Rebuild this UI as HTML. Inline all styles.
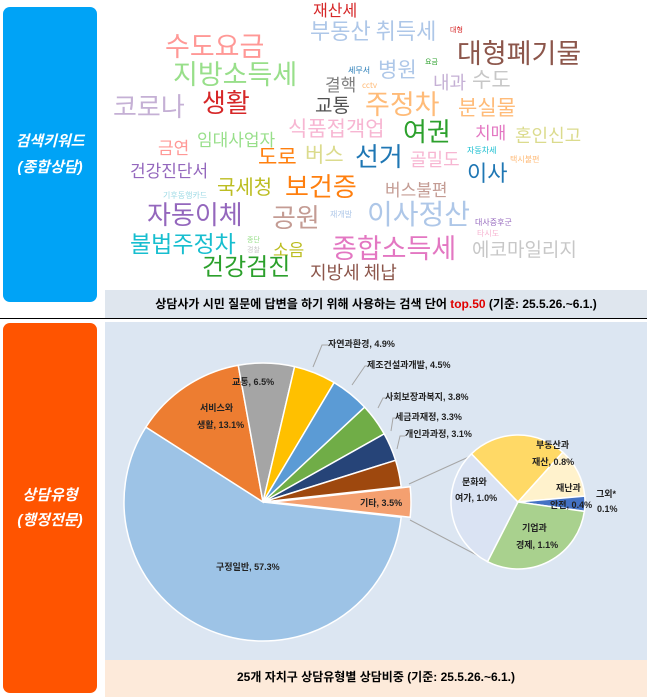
<!DOCTYPE html>
<html><head><meta charset="utf-8"><style>
body{margin:0;width:647px;height:697px;background:#fff;position:relative;overflow:hidden;font-family:"Liberation Sans","Noto Sans CJK KR",sans-serif}
.box{position:absolute;left:3px;width:94px;border-radius:7px;color:#fff;font-weight:bold;font-style:italic;font-size:15px;text-align:center;display:flex;align-items:center;justify-content:center;line-height:1.7}
.w{position:absolute;white-space:nowrap;line-height:1;font-family:"Noto Sans CJK KR",sans-serif}
</style></head><body>
<div class="box" style="top:7px;height:295px;background:#00a3f6">검색키워드<br>(종합상담)</div>
<div class="box" style="top:323px;height:370px;background:#ff5400">상담유형<br>(행정전문)</div>
<div style="position:absolute;left:0;top:318px;width:647px;height:1px;background:#000"></div>
<div style="position:absolute;left:105px;top:290px;width:542px;height:28px;background:#dfe6ee;font-size:12px;font-weight:bold;text-align:center;line-height:28px">상담사가 시민 질문에 답변을 하기 위해 사용하는 검색 단어 <span style="color:#e00000">top.50</span> (기준: 25.5.26.~6.1.)</div>
<div id="wc"></div>
<div style="position:absolute;left:105px;top:322px;width:542px;height:338px;background:#dce6f2"></div>
<div style="position:absolute;left:105px;top:660px;width:542px;height:37px;background:#fdeada;font-size:12px;font-weight:bold;text-align:center;line-height:34px">25개 자치구 상담유형별 상담비중 (기준: 25.5.26.~6.1.)</div>
<svg id="pie" width="647" height="697" style="position:absolute;left:0;top:0" font-family="Liberation Sans, Noto Sans CJK KR, sans-serif" font-size="9" font-weight="bold" fill="#222"></svg>
<script>
var W=[["재산세",313,2,16,"#d62728"],["부동산 취득세",310,21,22,"#aec7e8"],["대형",450,28,7,"#d62728"],["수도요금",165,33,27,"#ff9896"],["대형폐기물",457,40,27,"#8c564b"],["지방소득세",173,61,27,"#98df8a"],["세무서",348,68,8,"#1f77b4"],["병원",378,61,21,"#aec7e8"],["요금",425,60,7,"#2ca02c"],["결핵",325,76,17,"#7f7f7f"],["cctv",362,83,8,"#ffbb78"],["내과",433,74,18,"#c5b0d5"],["수도",472,71,21,"#c7c7c7"],["코로나",113,95,26,"#c5b0d5"],["생활",202,91,26,"#d62728"],["교통",315,97,19,"#525252"],["주정차",365,91,27,"#ffbb78"],["분실물",458,99,21,"#ffbb78"],["식품접객업",288,120,21,"#f7b6d2"],["여권",403,120,26,"#2ca02c"],["치매",475,124,17,"#e377c2"],["혼인신고",515,127,18,"#dbdb8d"],["금연",158,139,17,"#ff9896"],["임대사업자",197,131,17,"#98df8a"],["자동차세",467,148,8,"#17becf"],["택시불편",510,157,8,"#ffbb78"],["도로",258,148,21,"#ff7f0e"],["버스",305,146,21,"#dbdb8d"],["선거",355,145,26,"#1f77b4"],["골밀도",410,151,18,"#f7b6d2"],["건강진단서",130,162,17,"#9467bd"],["이사",467,163,22,"#1f77b4"],["국세청",217,178,20,"#bcbd22"],["보건증",285,175,26,"#ff7f0e"],["버스불편",385,181,17,"#c49c94"],["기후동행카드",163,193,8,"#9edae5"],["자동이체",147,203,26,"#9467bd"],["재개발",330,212,8,"#aec7e8"],["공원",272,206,26,"#c49c94"],["이사정산",367,201,28,"#aec7e8"],["대사증후군",475,220,8,"#9467bd"],["타시도",477,231,8,"#f7b6d2"],["불법주정차",130,233,23,"#17becf"],["종단",247,238,7,"#98df8a"],["경찰",247,248,7,"#c7c7c7"],["소음",273,241,17,"#bcbd22"],["종합소득세",332,235,27,"#e377c2"],["에코마일리지",472,241,19,"#c7c7c7"],["건강검진",202,255,24,"#2ca02c"],["지방세 체납",310,264,18,"#8c564b"]];
var h="";W.forEach(function(w){h+='<div class="w" style="left:'+w[1]+'px;top:'+(w[2]-w[3]*0.08)+'px;font-size:'+w[3]+'px;color:'+w[4]+'">'+w[0]+'</div>'});
document.getElementById("wc").innerHTML=h;
function arc(cx,cy,r,a0,a1,col){var t=Math.PI/180,x0=cx+r*Math.cos(a0*t),y0=cy+r*Math.sin(a0*t),x1=cx+r*Math.cos(a1*t),y1=cy+r*Math.sin(a1*t);return '<path d="M'+cx+','+cy+'L'+x0+','+y0+'A'+r+','+r+' 0 '+((a1-a0)>180?1:0)+' 1 '+x1+','+y1+'Z" fill="'+col+'" stroke="#fff" stroke-width="1.5"/>'}
var s="",cx=263,cy=502,r=139,a=6.3;
var S=[[57.3,"#9dc3e6"],[13.1,"#ed7d31"],[6.5,"#a5a5a5"],[4.9,"#ffc000"],[4.5,"#5b9bd5"],[3.8,"#70ad47"],[3.3,"#264478"],[3.1,"#9e480e"]];
S.forEach(function(p){var b=a+p[0]*3.6;s+=arc(cx,cy,r,a,b,p[1]);a=b});
var m=(a+a+12.6)/2*Math.PI/180;s+=arc(cx+9*Math.cos(m),cy+9*Math.sin(m),r,a,a+12.6,"#f4a070");
s+='<line x1="409" y1="484" x2="473" y2="455" stroke="#a6a6a6"/><line x1="410" y1="520" x2="488" y2="561" stroke="#a6a6a6"/>';
var c2=518,d2=502,r2=67;
[[117,226,"#dae3f3"],[226,312,"#ffd966"],[312,355,"#fff2cc"],[355,368,"#4472c4"],[368,477,"#a9d18e"]].forEach(function(p){s+=arc(c2,d2,r2,p[0],p[1],p[2])});
var L=[["자연과환경, 4.9%",328,347],["제조건설과개발, 4.5%",367,368],["사회보장과복지, 3.8%",385,400],["세금과재정, 3.3%",395,420],["개인과과정, 3.1%",405,437],["교통, 6.5%",232,385],["서비스와",200,411],["생활, 13.1%",197,428],["기타, 3.5%",360,506],["구정일반, 57.3%",216,570],["문화와",462,485],["여가, 1.0%",455,501],["부동산과",536,448],["재산, 0.8%",532,465],["재난과",556,491],["안전, 0.4%",550,508],["그외*",596,497],["0.1%",597,512],["기업과",522,531],["경제, 1.1%",516,548]];
L.forEach(function(l){s+='<text x="'+l[1]+'" y="'+l[2]+'">'+l[0]+'</text>'});
[[313,367,322,345,328,345],[352,385,365,366,367,366],[378,408,383,398,385,398],[391,431,393,418,395,418],[397,449,400,436,405,436]].forEach(function(q){s+='<polyline points="'+q[0]+','+q[1]+' '+q[2]+','+q[3]+' '+q[4]+','+q[5]+'" fill="none" stroke="#a6a6a6"/>'});
document.getElementById("pie").innerHTML=s;
</script>
</body></html>
